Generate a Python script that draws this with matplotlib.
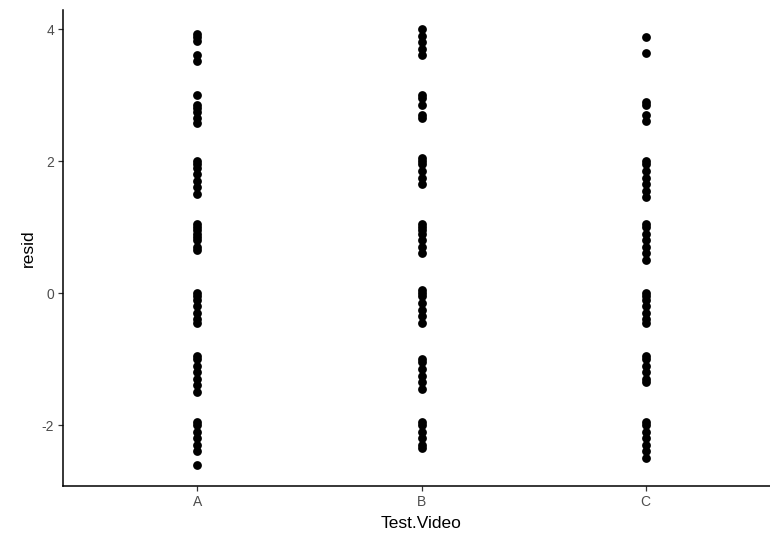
import matplotlib.pyplot as plt
import numpy as np

plt.rcParams['font.family'] = ['Liberation Sans', 'DejaVu Sans']

# residuals, per video
resid_A = [3.92, 3.88, 3.82, 3.6, 3.52,
           3.0, 2.85, 2.8, 2.75, 2.65, 2.58,
           2.0, 1.95, 1.9, 1.8, 1.7, 1.6, 1.5,
           1.05, 1.0, 0.95, 0.9, 0.85, 0.8, 0.7, 0.65,
           0.0, -0.05, -0.1, -0.2, -0.3, -0.4, -0.45,
           -0.95, -1.0, -1.1, -1.2, -1.3, -1.4, -1.5,
           -1.95, -2.0, -2.1, -2.2, -2.3, -2.4, -2.6]
resid_B = [4.0, 3.9, 3.8, 3.7, 3.6,
           3.0, 2.95, 2.85, 2.7, 2.65,
           2.05, 2.0, 1.95, 1.85, 1.75, 1.65,
           1.05, 1.0, 0.95, 0.9, 0.8, 0.7, 0.6,
           0.05, 0.0, -0.05, -0.15, -0.25, -0.35, -0.45,
           -1.0, -1.05, -1.15, -1.25, -1.35, -1.45,
           -1.95, -2.0, -2.1, -2.2, -2.3, -2.35]
resid_C = [3.88, 3.63,
           2.9, 2.85, 2.7, 2.6,
           2.0, 1.95, 1.85, 1.75, 1.65, 1.55, 1.45,
           1.05, 1.0, 0.9, 0.8, 0.7, 0.6, 0.5,
           0.0, -0.05, -0.1, -0.2, -0.3, -0.4, -0.45,
           -0.95, -1.0, -1.1, -1.2, -1.3, -1.35,
           -1.95, -2.0, -2.1, -2.2, -2.3, -2.4, -2.5]
videos = ['A', 'B', 'C']
groups = [resid_A, resid_B, resid_C]
yticks = [-2, 0, 2, 4]

fig = plt.figure(figsize=(7.7, 5.36), dpi=100)
ax = fig.add_axes([63/770, 1 - 486/536, 717/770, 476/536])

for i, vals in enumerate(groups):
    ax.scatter(np.full(len(vals), i), vals, s=40, color='black', linewidths=0, zorder=3)

ax.set_xlim(-0.6, 2.6)
ax.set_ylim(-2.924, 4.288)
ax.set_xticks(range(len(videos)))
ax.set_xticklabels(videos)
ax.set_yticks(yticks)
ax.set_yticklabels([str(t) for t in yticks])

for s in ['top', 'right']:
    ax.spines[s].set_visible(False)
for s in ['left', 'bottom']:
    ax.spines[s].set_linewidth(1.1)
    ax.spines[s].set_color('black')
ax.tick_params(length=3.5, width=0.9, color='#333333', labelcolor='#4d4d4d', labelsize=10, pad=3)

ax.set_xlabel('Test.Video', fontsize=12.5, labelpad=5)
ax.set_ylabel('resid', fontsize=12.5, labelpad=4)

fig.savefig('out.png', dpi=100)
